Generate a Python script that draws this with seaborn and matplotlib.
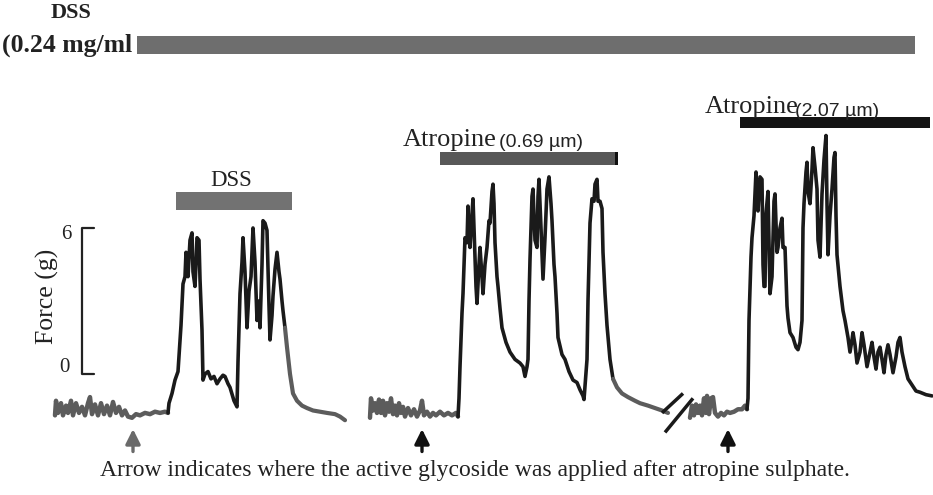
import numpy as np
import pandas as pd
import matplotlib
matplotlib.use("Agg")
import matplotlib.pyplot as plt
import seaborn as sns

sns.set_theme(style="white")
plt.rcParams['font.family'] = ['Liberation Serif', 'DejaVu Serif']

# --- Data: force traces (time in arbitrary units, force in g) ---
# trace 1 : DSS alone
t1_base = [55, 56, 58, 61, 63, 66, 68, 71, 73, 76, 79, 82, 85, 88, 90, 92, 95, 98, 101, 104,
           107, 110, 113, 116, 119, 122, 125, 128, 132, 136, 140, 145, 150, 155, 160, 165, 168]
f1_base = [-1.7, -1.1, -1.6, -1.2, -1.7, -1.3, -1.6, -1.1, -1.7, -1.2, -1.6, -1.35, -1.7, -1.2,
           -0.95, -1.65, -1.25, -1.7, -1.2, -1.65, -1.3, -1.7, -1.15, -1.6, -1.35, -1.7, -1.5,
           -1.75, -1.8, -1.65, -1.7, -1.6, -1.65, -1.55, -1.6, -1.55, -1.6]
t1_resp = [168, 169, 172, 175, 178, 181, 183, 185, 186, 188, 190, 192, 193, 195, 196, 197, 199,
           200, 202, 203, 205, 208, 211, 214, 217, 220, 223, 225, 228, 230, 234, 237, 238, 240,
           242, 243, 245, 247, 249, 251, 253, 255, 257, 259, 260, 262, 263, 265, 267, 269, 270,
           272, 273, 275, 277, 279, 280, 282, 283, 285]
f1_resp = [-1.6, -1.2, -0.8, -0.25, 0.1, 2.0, 3.7, 4.0, 5.0, 4.0, 5.5, 5.8, 4.2, 3.6, 4.5, 5.6,
           5.5, 3.9, 1.8, -0.25, 0.0, 0.1, -0.2, -0.1, -0.4, -0.2, -0.05, -0.1, -0.4, -0.55,
           -1.1, -1.35, 0.5, 3.3, 4.6, 5.6, 4.2, 1.9, 3.4, 4.0, 6.0, 4.6, 2.2, 3.0, 1.9, 4.5,
           6.3, 6.2, 5.9, 2.8, 1.4, 2.4, 3.2, 4.3, 5.0, 4.2, 3.9, 3.0, 2.6, 1.9]
t1_tail = [285, 287, 290, 293, 297, 302, 307, 313, 320, 327, 335, 340, 345]
f1_tail = [1.9, 1.1, 0.0, -0.8, -1.1, -1.3, -1.4, -1.5, -1.55, -1.6, -1.65, -1.75, -1.9]

# trace 2 : DSS + atropine 0.69 um
t2_base = [370, 371, 373, 375, 377, 379, 381, 383, 385, 387, 389, 391, 393, 395, 397, 399, 401,
           403, 405, 408, 411, 414, 417, 420, 422, 424, 427, 430, 433, 436, 440, 444, 448, 452,
           456, 458]
f2_base = [-1.8, -1.0, -1.5, -1.2, -1.6, -1.05, -1.6, -1.1, -1.7, -1.2, -1.55, -1.0, -1.65, -1.3,
           -1.7, -1.2, -1.6, -1.35, -1.75, -1.4, -1.7, -1.45, -1.75, -1.5, -1.1, -1.7, -1.55,
           -1.75, -1.6, -1.7, -1.55, -1.7, -1.6, -1.7, -1.6, -1.75]
t2_resp = [458, 459, 460, 462, 463, 465, 467, 468, 469, 470, 472, 473, 474, 476, 477, 479, 480,
           482, 483, 485, 487, 489, 490, 492, 493, 494, 495, 497, 498, 500, 502, 506, 510, 515,
           520, 523, 525, 527, 528, 529, 530, 532, 533, 535, 537, 538, 539, 541, 543, 545, 547,
           549, 551, 552, 554, 555, 557, 558, 562, 565, 569, 573, 577, 580, 583, 584, 585, 587,
           588, 590, 592, 594, 595, 597, 598, 600, 602, 603, 605, 607, 610, 613]
f2_resp = [-1.75, -1.0, 0.3, 2.5, 3.3, 5.6, 5.4, 6.9, 5.6, 5.2, 6.6, 7.2, 6.0, 3.6, 2.9, 4.5,
           5.2, 4.0, 3.3, 4.5, 5.2, 6.3, 6.2, 7.5, 7.8, 7.0, 5.4, 4.0, 3.6, 2.7, 1.9, 1.3, 0.9,
           0.6, 0.45, 0.3, -0.1, 0.3, 0.6, 3.0, 4.7, 7.3, 7.6, 5.5, 5.2, 7.3, 8.0, 6.0, 3.9,
           5.6, 7.6, 8.1, 7.0, 6.3, 4.5, 4.0, 2.5, 1.5, 0.8, 0.6, 0.1, -0.25, -0.35, -0.65,
           -0.9, -1.05, -0.5, 0.6, 3.0, 6.2, 7.2, 7.1, 7.8, 8.0, 7.1, 7.1, 6.8, 5.0, 3.3, 2.0,
           0.6, -0.2]
t2_tail = [613, 617, 622, 628, 635, 640, 648, 655, 662, 668]
f2_tail = [-0.2, -0.55, -0.8, -0.95, -1.1, -1.2, -1.3, -1.4, -1.5, -1.6]

# trace 3 : DSS + atropine 2.07 um
t3_base = [690, 692, 694, 696, 698, 700, 702, 704, 706, 707, 709, 711, 713, 715, 718, 721, 724,
           727, 730, 734, 738, 742, 745, 747]
f3_base = [-1.8, -1.3, -1.7, -1.25, -1.6, -1.3, -1.7, -1.0, -1.6, -0.9, -1.65, -1.0, -0.95,
           -1.6, -1.75, -1.6, -1.7, -1.55, -1.6, -1.55, -1.45, -1.45, -1.3, -1.45]
t3_resp = [747, 748, 749, 751, 752, 754, 756, 757, 758, 760, 762, 763, 764, 765, 766, 768, 770,
           772, 774, 775, 777, 778, 780, 782, 783, 785, 787, 788, 790, 793, 796, 798, 800, 802,
           803, 804, 806, 807, 808, 810, 812, 813, 815, 817, 818, 820, 822, 824, 826, 827, 828,
           830, 832, 834, 835, 836, 837, 840, 843, 845, 848, 850, 852, 853, 855, 857, 860, 862,
           864, 867, 870, 872, 874, 876, 878, 880, 882, 884, 886, 888, 890, 893, 896, 898, 900,
           902, 905, 908, 912, 916, 920, 926, 932]
f3_resp = [-1.45, -1.0, 2.2, 4.8, 5.6, 6.5, 8.3, 6.8, 6.7, 8.1, 8.0, 4.5, 3.6, 3.6, 6.6, 7.5,
           3.3, 4.0, 7.1, 7.4, 5.0, 5.2, 6.0, 6.4, 5.2, 5.2, 2.8, 2.3, 1.7, 1.5, 1.1, 1.0, 1.3,
           2.2, 6.0, 7.0, 8.3, 8.7, 7.5, 7.0, 8.4, 9.3, 8.5, 7.6, 5.5, 4.8, 7.4, 8.8, 9.8, 7.0,
           4.9, 6.5, 7.6, 8.9, 9.1, 6.5, 4.9, 3.6, 2.6, 2.2, 1.5, 0.9, 1.4, 1.7, 1.2, 0.45, 0.9,
           1.7, 1.2, 0.3, 0.9, 1.3, 0.7, 0.2, 0.9, 1.1, 0.6, 0.05, 0.8, 1.2, 0.8, 0.05, 0.7,
           1.3, 1.5, 0.9, 0.3, -0.2, -0.45, -0.7, -0.75, -0.85, -0.9]

# drug application bars (start, end)
dss_long = (137, 915)
dss_short = (176, 292)
atro_low = (440, 618)
atro_high = (740, 930)

# glycoside application (arrows) and calibration bar
arrow_t = [133, 422, 728]
arrow_col = ['#6a6a6a', '#111111', '#111111']
calib_g = [0, 6]

# --- Figure ---
fig = plt.figure(figsize=(9.33, 4.95), dpi=100)
ax = fig.add_axes([0, 0, 1, 1])
ax.set_xlim(0, 933)
ax.set_ylim(-4.973, 15.37)
ax.axis('off')

gray = '#5c5c5c'
dark = '#1a1a1a'
segments = [(t1_base, f1_base, gray, 3.2), (t1_resp, f1_resp, dark, 2.6), (t1_tail, f1_tail, gray, 3.0),
            (t2_base, f2_base, gray, 3.2), (t2_resp, f2_resp, dark, 2.6), (t2_tail, f2_tail, gray, 3.0),
            (t3_base, f3_base, gray, 3.2), (t3_resp, f3_resp, dark, 2.6)]
for t, f, c, lw in segments:
    df = pd.DataFrame({'time': t, 'force': f})
    sns.lineplot(data=df, x='time', y='force', ax=ax, color=c, lw=lw,
                 estimator=None, sort=False, legend=False)

# break marks between trace 2 and 3
ax.plot([662, 683], [-1.6, -0.8], color=dark, lw=2.5, solid_capstyle='butt')
ax.plot([665, 693], [-2.4, -1.0], color=dark, lw=2.5, solid_capstyle='butt')

# drug bars
ax.fill_between(dss_long, 13.15, 13.89, color='#6e6e6e', lw=0)
ax.fill_between(dss_short, 6.74, 7.48, color='#727272', lw=0)
ax.fill_between(atro_low, 8.59, 9.12, color='#585858', lw=0)
ax.fill_between([atro_low[1] - 3, atro_low[1]], 8.59, 9.12, color='#111111', lw=0)
ax.fill_between(atro_high, 10.11, 10.56, color='#141414', lw=0)

# calibration bracket
ax.plot([94, 82, 82, 94], [calib_g[1], calib_g[1], calib_g[0], calib_g[0]], color='#222222', lw=1.6)
ax.text(66, calib_g[1] - 0.25, '6', fontsize=15, ha='center', va='center', color='#222222')
ax.text(64, calib_g[0] + 0.25, '0', fontsize=15, ha='center', va='center', color='#222222')
ax.text(47, 3.2, 'Force (g)', fontsize=18.5, rotation=90, ha='center', va='center', color='#222222')

# arrows
for x, c in zip(arrow_t, arrow_col):
    ax.annotate('', xy=(x, -2.15), xytext=(x, -3.3),
                arrowprops=dict(arrowstyle='-|>', color=c, lw=2.4, mutation_scale=22))

# labels
ax.text(71, 14.85, 'DSS', fontsize=16, fontweight='bold', ha='center', va='center', color='#222222')
ax.text(2, 13.52, '(0.24 mg/ml', fontsize=18.5, fontweight='bold', ha='left', va='center', color='#222222')
ax.text(231, 7.97, 'DSS', fontsize=16.5, ha='center', va='center', color='#222222')
ax.text(403, 9.62, 'Atropine', fontsize=19, ha='left', va='center', color='#222222')
ax.text(499, 9.5, '(0.69 \u00b5m)', fontsize=14, ha='left', va='center', color='#222222',
        family=['Liberation Sans', 'DejaVu Sans'])
ax.text(705, 10.97, 'Atropine', fontsize=19, ha='left', va='center', color='#222222')
ax.text(795, 10.8, '(2.07 \u00b5m)', fontsize=14, ha='left', va='center', color='#222222',
        family=['Liberation Sans', 'DejaVu Sans'])

ax.text(475, -3.95, 'Arrow indicates where the active glycoside was applied after atropine sulphate.',
        fontsize=17, ha='center', va='center', color='#222222')

fig.savefig('out.png', dpi=100)
